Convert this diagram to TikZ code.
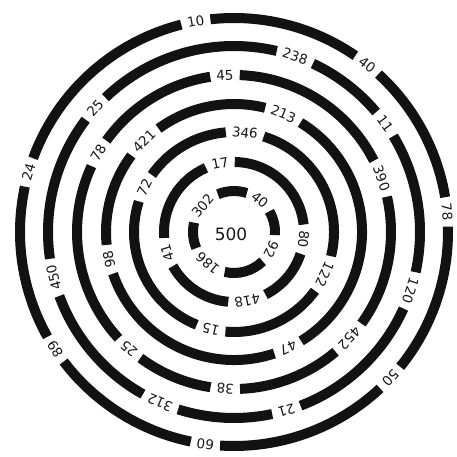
\documentclass[tikz,border=0pt]{standalone}
\usepackage{fontspec}
\setmainfont{DejaVu Sans}
\begin{document}
\begin{tikzpicture}[x=1pt,y=1pt,
  band/.style={line width=10pt, draw=black!93},
  lab/.style={inner sep=0pt, font=\fontsize{13.5}{13.5}\selectfont, text=black!90},
  mid/.style={font=\fontsize{17}{17}\selectfont, text=black!90}]
\fill[white] (0,0) rectangle (456,457);
\useasboundingbox (0,0) rectangle (456,457);
\coordinate (c) at (234,225);
% arcs between consecutive gaps: radius / label angle / digits / next label angle / digits
\foreach \r/\a/\na/\b/\nb in {
  214/5.4/2/51.5/2, 214/51.5/2/100.3/2, 214/100.3/2/163.8/2, 214/163.8/2/213.3/2,
  214/213.3/2/262.3/2, 214/262.3/2/317/2, 214/317/2/365.4/2,
  186/35.6/2/70.8/3, 186/70.8/3/138.3/2, 186/138.3/2/194.2/3, 186/194.2/3/246.6/3,
  186/246.6/3/286.4/2, 186/286.4/2/341.6/3, 186/341.6/3/395.6/2,
  157/20/3/93.3/2, 157/93.3/2/149.8/2, 157/149.8/2/228/2, 157/228/2/266.8/2,
  157/266.8/2/317.3/3, 157/317.3/3/380/3,
  128/67.3/3/134.7/3, 128/134.7/3/192.4/2, 128/192.4/2/295/2, 128/295/2/427.3/3,
  100/83.7/3/153.7/2, 100/153.7/2/256.6/2, 100/256.6/2/335/3, 100/335/3/443.7/3,
  70/101.5/2/197/2, 70/197/2/281/3, 70/281/3/354/2, 70/354/2/461.5/2,
  41/51/2/140/3, 41/140/3/230/3, 41/230/3/335/2, 41/335/2/411/2}
{
  \pgfmathsetmacro\sa{\a+(\na*4.4+6)/\r*57.2958}
  \pgfmathsetmacro\ea{\b-(\nb*4.4+6)/\r*57.2958}
  \draw[band] ([shift={(\sa:\r pt)}]c) arc[start angle=\sa, end angle=\ea, radius=\r pt];
}
\foreach \r/\a/\t [count=\i] in {
  214/100.3/10, 214/51.5/40, 214/5.4/78, 214/-43/50, 214/262.3/60, 214/213.3/89, 214/163.8/24,
  186/70.8/238, 186/35.6/11, 186/-18.4/120, 186/-73.6/21, 186/246.6/312, 186/194.2/450, 186/138.3/25,
  157/93.3/45, 157/20/390, 157/-42.7/452, 157/266.8/38, 157/228/25, 157/149.8/78,
  128/67.3/213, 128/-65/47, 128/192.4/98, 128/134.7/421,
  100/83.7/346, 100/-25/122, 100/256.6/15, 100/153.7/72,
  70/101.5/17, 70/-6/80, 70/-79/418, 70/197/41,
  41/140/302, 41/51/40, 41/-25/92, 41/230/186}
  \node[lab, rotate=\a-90] (l\i) at ([shift={(\a:\r pt)}]c) {\t};
\node[mid] (ctr) at (231,223) {500};
\end{tikzpicture}
\end{document}
